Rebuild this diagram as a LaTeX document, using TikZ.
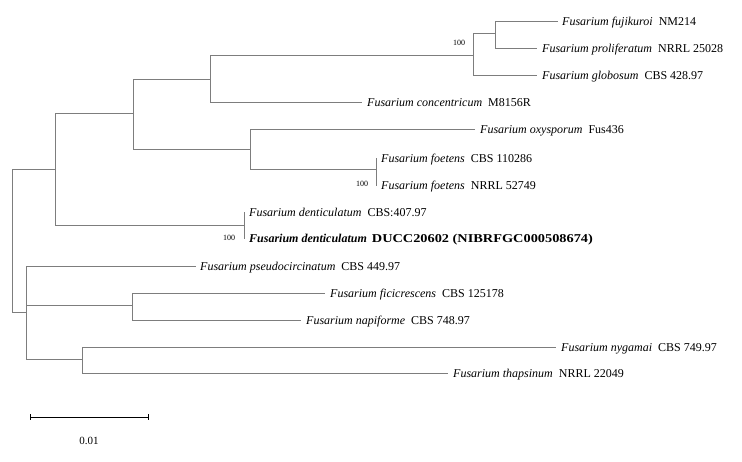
\documentclass[tikz,border=0pt]{standalone}
\usepackage{fontspec}
\usepackage{graphicx}
\setmainfont{Liberation Serif}
\definecolor{treegray}{RGB}{125,125,125}
\begin{document}
\begin{tikzpicture}[x=1pt,y=-1pt,
  br/.style={draw=treegray, line width=1pt},
  lab/.style={anchor=base west, inner sep=0pt, font=\fontsize{12}{14}\selectfont},
  bs/.style={inner sep=0pt, font=\fontsize{8}{9}\selectfont}]
\useasboundingbox (0,0) rectangle (742,461);
% internal nodes
\coordinate (r) at (12,240);
\coordinate (A) at (55,169);
\coordinate (B) at (133,113);
\coordinate (C) at (210,79);
\coordinate (F) at (473,55);
\coordinate (G) at (495,33);
\coordinate (E) at (250,149);
\coordinate (H) at (376,169);
\coordinate (D) at (244,225);
\coordinate (L) at (26,312);
\coordinate (M) at (132,305);
\coordinate (N) at (82,359);
% tips
\coordinate (tfuji) at (558,21);
\coordinate (tprol) at (537,48);
\coordinate (tglob) at (537,75);
\coordinate (tconc) at (362,102);
\coordinate (toxy) at (475,129);
\coordinate (tfoeA) at (377,158);
\coordinate (tfoeB) at (377,185);
\coordinate (tdenA) at (245,212);
\coordinate (tdenB) at (245,238);
\coordinate (tpse) at (196,266);
\coordinate (tfic) at (325,293);
\coordinate (tnap) at (301,320);
\coordinate (tnyg) at (556,347);
\coordinate (ttha) at (448,373);
% branches
\draw[br] (r) |- (A); \draw[br] (r) |- (L);
\draw[br] (A) |- (B); \draw[br] (A) |- (D);
\draw[br] (B) |- (C); \draw[br] (B) |- (E);
\draw[br] (C) |- (F); \draw[br] (C) |- (tconc);
\draw[br] (F) |- (G); \draw[br] (F) |- (tglob);
\draw[br] (G) |- (tfuji); \draw[br] (G) |- (tprol);
\draw[br] (E) |- (toxy); \draw[br] (E) |- (H);
\draw[br] (H) |- (tfoeA); \draw[br] (H) |- (tfoeB);
\draw[br] (D) |- (tdenA); \draw[br] (D) |- (tdenB);
\draw[br] (L) |- (tpse); \draw[br] (L) |- (M); \draw[br] (L) |- (N);
\draw[br] (M) |- (tfic); \draw[br] (M) |- (tnap);
\draw[br] (N) |- (tnyg); \draw[br] (N) |- (ttha);
% labels
\node[lab] (lfuji) at ([xshift=4pt,yshift=-4.3pt]tfuji) {\textit{Fusarium fujikuroi}\ \ NM214};
\node[lab] (lprol) at ([xshift=5pt,yshift=-4.3pt]tprol) {\textit{Fusarium proliferatum}\ \ NRRL 25028};
\node[lab] (lglob) at ([xshift=5pt,yshift=-4.3pt]tglob) {\textit{Fusarium globosum}\ \ CBS 428.97};
\node[lab] (lconc) at ([xshift=5pt,yshift=-4.3pt]tconc) {\textit{Fusarium concentricum}\ \ M8156R};
\node[lab] (loxy) at ([xshift=5pt,yshift=-4.3pt]toxy) {\textit{Fusarium oxysporum}\ \ Fus436};
\node[lab] (lfoeA) at ([xshift=4pt,yshift=-4.3pt]tfoeA) {\textit{Fusarium foetens}\ \ CBS 110286};
\node[lab] (lfoeB) at ([xshift=4pt,yshift=-4.3pt]tfoeB) {\textit{Fusarium foetens}\ \ NRRL 52749};
\node[lab] (ldenA) at ([xshift=4pt,yshift=-4.3pt]tdenA) {\textit{Fusarium denticulatum}\ \ CBS:407.97};
\node[lab] (ldenB) at ([xshift=4pt,yshift=-4.3pt]tdenB) {\textbf{\textit{Fusarium denticulatum}}\hspace{5pt}\resizebox{221pt}{\height}{\textbf{DUCC20602 (NIBRFGC000508674)}}};
\node[lab] (lpse) at ([xshift=4pt,yshift=-4.3pt]tpse) {\textit{Fusarium pseudocircinatum}\ \ CBS 449.97};
\node[lab] (lfic) at ([xshift=5pt,yshift=-4.3pt]tfic) {\textit{Fusarium ficicrescens}\ \ CBS 125178};
\node[lab] (lnap) at ([xshift=5pt,yshift=-4.3pt]tnap) {\textit{Fusarium napiforme}\ \ CBS 748.97};
\node[lab] (lnyg) at ([xshift=5pt,yshift=-4.3pt]tnyg) {\textit{Fusarium nygamai}\ \ CBS 749.97};
\node[lab] (ltha) at ([xshift=5pt,yshift=-4.3pt]ttha) {\textit{Fusarium thapsinum}\ \ NRRL 22049};
% bootstrap
\node[bs] (bF) at (459,43) {100};
\node[bs] (bH) at (362,184) {100};
\node[bs] (bD) at (229,238) {100};
% scale bar
\coordinate (sa) at (30,417);
\coordinate (sb) at (148,417);
\draw[line width=1pt] (sa) -- (sb);
\draw[line width=1pt] ([yshift=3pt]sa) -- ([yshift=-3pt]sa);
\draw[line width=1pt] ([yshift=3pt]sb) -- ([yshift=-3pt]sb);
\node[inner sep=0pt, font=\fontsize{11}{13}\selectfont] (sl) at (89,441) {0.01};
\end{tikzpicture}
\end{document}
